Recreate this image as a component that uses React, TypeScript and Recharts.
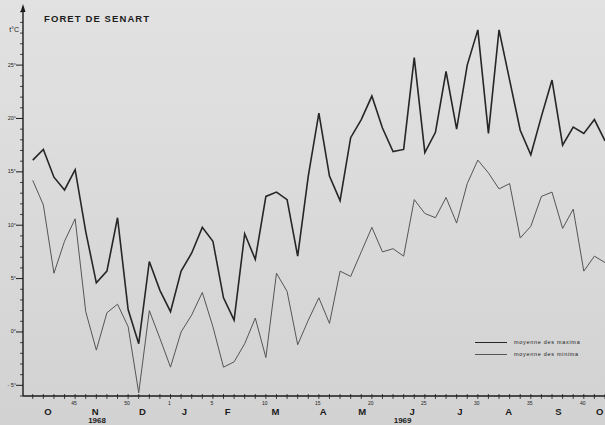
import { LineChart, Line, XAxis, YAxis, Legend } from 'recharts'

// weekly means, Forêt de Sénart, week 41 of 1968 to week 42 of 1969
const WEEKS = [
  41, 42, 43, 44, 45, 46, 47, 48, 49, 50, 51, 52, 53,
  1, 2, 3, 4, 5, 6, 7, 8, 9, 10, 11, 12, 13, 14, 15, 16, 17, 18, 19, 20,
  21, 22, 23, 24, 25, 26, 27, 28, 29, 30, 31, 32, 33, 34, 35, 36, 37, 38, 39, 40, 41, 42,
]

const MAXIMA = [
  16.1, 17.1, 14.5, 13.3, 15.2, 9.4, 4.6, 5.7, 10.7, 2.1, -1.1, 6.6, 3.9,
  1.9, 5.7, 7.4, 9.8, 8.5, 3.2, 1.1, 9.2, 6.8, 12.7, 13.1, 12.4, 7.1, 14.6, 20.5, 14.6, 12.3,
  18.2, 19.9, 22.1, 19.1, 16.9, 17.1, 25.7, 16.8, 18.7, 24.4, 19.0, 25.0, 28.3, 18.6, 28.3,
  23.6, 18.9, 16.6, 20.2, 23.6, 17.5, 19.2, 18.6, 19.9, 17.9,
]

const MINIMA = [
  14.2, 11.9, 5.5, 8.5, 10.6, 1.9, -1.7, 1.8, 2.6, 0.5, -5.7, 2.0, -0.6,
  -3.3, 0.0, 1.6, 3.7, 0.5, -3.3, -2.8, -1.1, 1.3, -2.4, 5.5, 3.8, -1.2, 1.1, 3.2, 0.8, 5.7,
  5.2, 7.5, 9.8, 7.5, 7.8, 7.1, 12.4, 11.1, 10.7, 12.6, 10.2, 13.9, 16.1, 14.9, 13.4,
  13.9, 8.8, 9.9, 12.7, 13.1, 9.7, 11.5, 5.7, 7.1, 6.5,
]

// month initials, placed in week units along the time axis
const MONTHS = ['O', 'N', 'D', 'J', 'F', 'M', 'A', 'M', 'J', 'J', 'A', 'S', 'O']
const MONTH_AT = [1.44, 5.9, 10.35, 14.3, 18.4, 22.9, 27.4, 31.1, 35.8, 40.3, 44.9, 49.6, 53.5]
const YEARS = ['1968', '1969']
const YEAR_AT = [6.07, 34.9]

const Y_TICKS = Array.from({ length: 37 }, (_, k) => k - 6)

const data = WEEKS.map((week, i) => ({ i, week, max: MAXIMA[i], min: MINIMA[i] }))
const X_TICKS = [...data.map((d) => d.i), ...MONTH_AT, ...YEAR_AT]

const INK = '#1c1c1c'
const FONT = '"Liberation Sans", Arial, sans-serif'

function YTick({ x, y, payload }: any) {
  const v = payload.value
  const major = v % 5 === 0 && v >= -5 && v <= 25
  if (!major) return <line x1={x - 3} y1={y} x2={x} y2={y} stroke={INK} strokeWidth={0.8} />
  return (
    <g>
      <line x1={x - 7} y1={y} x2={x} y2={y} stroke={INK} strokeWidth={1} />
      <text x={x - 7} y={y + 1.5} textAnchor="end" fontSize={5.5} fill={INK} fontFamily={FONT}>
        {v < 0 ? `- ${-v}°` : `${v}°`}
      </text>
    </g>
  )
}

// one tick renderer for the time axis: week marks, month initials and years
function TimeTick({ x, y, payload }: any) {
  const v = payload.value
  const m = MONTH_AT.indexOf(v)
  if (m >= 0) {
    return (
      <text x={x} y={y + 18.5} textAnchor="middle" fontSize={9.5} fontWeight="bold" fill={INK} fontFamily={FONT}>
        {MONTHS[m]}
      </text>
    )
  }
  const yr = YEAR_AT.indexOf(v)
  if (yr >= 0) {
    return (
      <text x={x} y={y + 26.5} textAnchor="middle" fontSize={8} fontWeight="bold" fill={INK} fontFamily={FONT}>
        {YEARS[yr]}
      </text>
    )
  }
  const w = WEEKS[v]
  const labelled = w === 1 || w % 5 === 0
  return (
    <g>
      <line x1={x} y1={y - 2} x2={x} y2={y + 3} stroke={INK} strokeWidth={0.8} />
      {labelled && (
        <text x={x - 1} y={y + 9} textAnchor="middle" fontSize={5} fill={INK} fontFamily={FONT}>
          {w}
        </text>
      )}
    </g>
  )
}

function AxisHead({ viewBox }: any) {
  const ax = viewBox.x + viewBox.width
  const top = viewBox.y
  return (
    <g>
      <path d={`M${ax - 2.5},${top + 4} L${ax},${top - 4} L${ax + 2.5},${top + 4} Z`} fill={INK} />
      <text x={ax - 4} y={top + 24} textAnchor="end" fontSize={7} fill={INK} fontFamily={FONT}>
        t°C
      </text>
    </g>
  )
}

function LegendBox() {
  const rows = [
    { label: 'moyenne des maxima', w: 1.6, c: '#262626' },
    { label: 'moyenne des minima', w: 1, c: '#555555' },
  ]
  return (
    <div style={{ fontFamily: FONT, fontSize: 5.5, color: INK, letterSpacing: 0.7 }}>
      {rows.map((r) => (
        <div key={r.label} style={{ display: 'flex', alignItems: 'center', height: 12 }}>
          <span style={{ display: 'inline-block', width: 32, borderTop: `${r.w}px solid ${r.c}`, marginRight: 7 }} />
          <span>{r.label}</span>
        </div>
      ))}
    </div>
  )
}

export default function App() {
  return (
    <div
      style={{
        position: 'absolute',
        left: 0,
        top: 0,
        width: 605,
        height: 425,
        overflow: 'hidden',
        background: 'linear-gradient(180deg, #e2e2e2 0%, #d9d9d9 55%, #d2d2d2 100%)',
      }}
    >
      <div
        style={{
          position: 'absolute',
          left: 44,
          top: 13,
          fontFamily: FONT,
          fontWeight: 'bold',
          fontSize: 9.5,
          letterSpacing: 1.1,
          color: INK,
        }}
      >
        FORET DE SENART
      </div>
      <LineChart width={605} height={425} data={data} margin={{ top: 8, right: 0, bottom: 0, left: 0 }}>
        <YAxis
          type="number"
          domain={[-6, 30.35]}
          ticks={Y_TICKS}
          interval={0}
          width={23}
          tickSize={0}
          tickMargin={0}
          tickLine={false}
          axisLine={{ stroke: INK, strokeWidth: 1.4 }}
          tick={<YTick />}
          label={<AxisHead />}
        />
        <XAxis
          type="number"
          dataKey="i"
          domain={[-0.92, 54]}
          ticks={X_TICKS}
          interval={0}
          height={29}
          tickSize={0}
          tickMargin={0}
          tickLine={false}
          axisLine={{ stroke: INK, strokeWidth: 1.4 }}
          tick={<TimeTick />}
        />
        <Legend
          layout="vertical"
          align="center"
          verticalAlign="middle"
          wrapperStyle={{ left: 475, top: 336, width: 130 }}
          content={<LegendBox />}
        />
        <Line
          type="linear"
          dataKey="max"
          name="moyenne des maxima"
          stroke="#262626"
          strokeWidth={1.6}
          dot={false}
          isAnimationActive={false}
        />
        <Line
          type="linear"
          dataKey="min"
          name="moyenne des minima"
          stroke="#555555"
          strokeWidth={1}
          dot={false}
          isAnimationActive={false}
        />
      </LineChart>
    </div>
  )
}
